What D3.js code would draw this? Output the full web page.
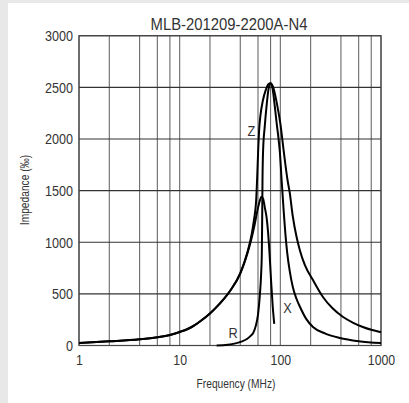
<!DOCTYPE html>
<html>
<head>
<meta charset="utf-8">
<script src="https://cdn.jsdelivr.net/npm/d3@7"></script>
<style>
  html, body { margin: 0; padding: 0; background: #e8e8e8; }
  svg { display: block; }
  text { font-family: "Liberation Sans", Arial, sans-serif; fill: #333; }
</style>
</head>
<body>
<script>
// ---- data ----
const title = "MLB-201209-2200A-N4";
const xTickValues = [1, 10, 100, 1000];
const xGridValues = [1, 2, 4, 6, 8, 10, 20, 40, 60, 80, 100, 200, 400, 600, 800, 1000];
const yTickValues = [0, 500, 1000, 1500, 2000, 2500, 3000];

const zFreq = [1, 2, 4, 6, 8, 10, 12, 14, 16, 20, 25, 32, 40, 47, 52, 55, 57.5, 59, 60.3, 61.5, 63.5, 67, 72, 76, 80,
               85, 90, 95, 100, 106, 112, 118, 124, 133, 145, 156, 175, 211, 265, 330, 420, 530, 660, 800, 1000];
const zVal  = [24, 40, 60, 80, 102, 131, 160, 195, 235, 310, 405, 535, 700, 900, 1080, 1230, 1400, 1650, 1900, 2080, 2230, 2370, 2480, 2530, 2540,
               2500, 2400, 2280, 2150, 1950, 1760, 1600, 1480, 1250, 1050, 925, 780, 634, 470, 360, 276, 220, 179, 152, 128];

const rFreq = [23.3, 30, 35, 41, 47, 51, 54, 57, 60, 62.5, 64.5, 65.5, 66, 66.5, 67.5, 70, 73, 76, 80,
               84, 88, 92, 96, 99, 103, 108, 113, 117, 124, 133, 145, 157, 180, 211, 280, 389, 600, 1000];
const rVal  = [0, 8, 18, 37, 65, 95, 125, 190, 300, 480, 700, 900, 1200, 1600, 1900, 2120, 2320, 2470, 2540,
               2480, 2320, 2150, 2000, 1870, 1600, 1300, 1050, 900, 720, 567, 450, 373, 260, 179, 115, 73, 42, 24];

const xFreq = [1, 2, 4, 6, 8, 10, 12, 14, 16, 20, 25, 32, 40, 45, 50, 55, 59, 62, 65, 67.5, 70, 73, 75.5, 78, 81, 84, 87];
const xVal  = [24, 40, 60, 80, 102, 131, 160, 195, 235, 310, 405, 535, 695, 830, 980, 1150, 1300, 1390, 1440, 1420, 1340, 1240, 1100, 900, 620, 380, 210];

const curveLabels = ["Z", "R", "X"];
const curveLabelFreq = [51.5, 34, 118];
const curveLabelVal = [2030, 73, 318];

// ---- layout ----
const W = 409, H = 403;
const svg = d3.select("body").append("svg").attr("width", W).attr("height", H);

svg.append("rect").attr("x", 0).attr("y", 0).attr("width", W).attr("height", H).attr("fill", "#e8e8e8");
svg.append("rect").attr("x", 8).attr("y", 3).attr("width", W - 8).attr("height", H - 3).attr("fill", "#ffffff");

const x = d3.scaleLog().domain([1, 1000]).range([79, 381]);
const y = d3.scaleLinear().domain([0, 3000]).range([345.5, 35.7]);

function condense(sel, k) {
  sel.each(function () {
    const L = this.getComputedTextLength();
    d3.select(this).attr("textLength", L * k).attr("lengthAdjust", "spacingAndGlyphs");
  });
}

// plot background
svg.append("rect").attr("x", x(1)).attr("y", y(3000))
  .attr("width", x(1000) - x(1)).attr("height", y(0) - y(3000)).attr("fill", "#fff");

// grid
const grid = svg.append("g");
grid.selectAll("line.v").data(xGridValues).join("line").attr("class", "v")
  .attr("x1", d => x(d)).attr("x2", d => x(d))
  .attr("y1", y(0)).attr("y2", y(3000))
  .attr("stroke", "#6a6a6a").attr("stroke-width", 1.1);
grid.selectAll("line.h").data(yTickValues).join("line").attr("class", "h")
  .attr("x1", x(1)).attr("x2", x(1000))
  .attr("y1", d => y(d)).attr("y2", d => y(d))
  .attr("stroke", "#333").attr("stroke-width", 1.1);

// frame
svg.append("rect").attr("x", x(1)).attr("y", y(3000))
  .attr("width", x(1000) - x(1)).attr("height", y(0) - y(3000))
  .attr("fill", "none").attr("stroke", "#444").attr("stroke-width", 1.2);

// axes via d3 axis (tick labels only)
const yAxis = d3.axisLeft(y).tickValues(yTickValues).tickSize(0).tickPadding(6).tickFormat(d3.format("d"));
const yg = svg.append("g").attr("transform", `translate(${x(1)},0)`).call(yAxis);
yg.select(".domain").remove();
yg.selectAll("text").attr("font-size", 15).attr("fill", "#333")
  .style("font-family", '"Liberation Sans", Arial, sans-serif');
condense(yg.selectAll("text"), 0.84);

const xAxis = d3.axisBottom(x).tickValues(xTickValues).tickSize(0).tickPadding(9).tickFormat(d3.format("d"));
const xg = svg.append("g").attr("transform", `translate(0,${y(0)})`).call(xAxis);
xg.select(".domain").remove();
xg.selectAll("text").attr("font-size", 15).attr("fill", "#333")
  .style("font-family", '"Liberation Sans", Arial, sans-serif');
condense(xg.selectAll("text"), 0.82);

// curves
const line = d3.line().x(d => x(d[0])).y(d => y(d[1])).curve(d3.curveMonotoneX);
const series = [
  zFreq.map((f, i) => [f, zVal[i]]),
  rFreq.map((f, i) => [f, rVal[i]]),
  xFreq.map((f, i) => [f, xVal[i]])
];
svg.append("g").selectAll("path").data(series).join("path")
  .attr("d", line).attr("fill", "none").attr("stroke", "#000").attr("stroke-width", 2)
  .attr("stroke-linejoin", "round");

// curve labels
const lab = svg.append("g").selectAll("text").data(curveLabels).join("text")
  .attr("x", (d, i) => x(curveLabelFreq[i])).attr("y", (d, i) => y(curveLabelVal[i]))
  .attr("text-anchor", "middle").attr("font-size", 15).attr("fill", "#444").text(d => d);
condense(lab, 0.85);

// title
const t = svg.append("text").attr("x", 229).attr("y", 29.5).attr("text-anchor", "middle")
  .attr("font-size", 16.5).attr("fill", "#222").text(title);
condense(t, 0.9);

// axis titles
const xt = svg.append("text").attr("x", 236).attr("y", 388).attr("text-anchor", "middle")
  .attr("font-size", 12).attr("fill", "#333").text("Frequency (MHz)");
condense(xt, 0.85);
const yt = svg.append("text").attr("transform", "translate(29,190) rotate(-90)")
  .attr("text-anchor", "middle").attr("font-size", 12).attr("fill", "#333").text("Impedance (‰)");
condense(yt, 0.85);
</script>
</body>
</html>
